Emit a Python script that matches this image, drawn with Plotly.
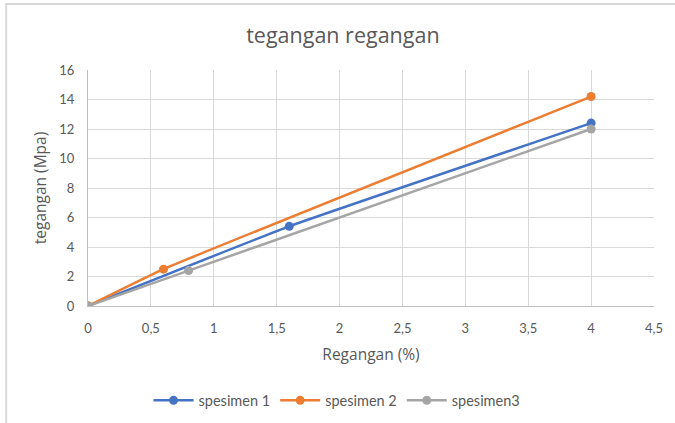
import plotly.graph_objects as go

# data
regangan_1 = [0, 1.6, 4]
tegangan_1 = [0, 5.4, 12.4]
regangan_2 = [0, 0.6, 4]
tegangan_2 = [0, 2.5, 14.2]
regangan_3 = [0, 0.8, 4]
tegangan_3 = [0, 2.4, 12.0]

names = ["spesimen 1", "spesimen 2", "spesimen3"]
colors = ["#4472C4", "#ED7D31", "#A5A5A5"]

fig = go.Figure()

for name, x, y, c in zip(names,
                         [regangan_1, regangan_2, regangan_3],
                         [tegangan_1, tegangan_2, tegangan_3],
                         colors):
    fig.add_trace(go.Scatter(
        x=x, y=y, name=name, mode="lines+markers",
        line=dict(color=c, width=2.5, shape="spline", smoothing=0.3),
        marker=dict(color=c, size=9),
    ))

grey = "#595959"

fig.update_layout(
    width=675, height=423,
    margin=dict(l=88, r=21, t=70, b=117, autoexpand=False),
    paper_bgcolor="white",
    plot_bgcolor="white",
    separators=", ",
    font=dict(family="Lato, Open Sans, sans-serif", color=grey, size=13),
    title=dict(text="tegangan regangan", x=0.508, xanchor="center",
               y=0.915, yanchor="middle",
               font=dict(family="Open Sans", size=21.5, color=grey)),
    xaxis=dict(
        range=[0, 4.5], dtick=0.5, tick0=0,
        showgrid=True, gridcolor="#D9D9D9", gridwidth=1,
        showline=True, linecolor="#BFBFBF", linewidth=1,
        zeroline=False, ticks="", ticklabelstandoff=10, automargin=False,
        title=dict(text="Regangan (%)", standoff=14,
                   font=dict(family="Open Sans", size=15.5, color=grey)),
    ),
    yaxis=dict(
        range=[0, 16], dtick=2,
        showgrid=True, gridcolor="#D9D9D9", gridwidth=1,
        showline=True, linecolor="#BFBFBF", linewidth=1,
        zeroline=False, ticks="", ticklabelstandoff=10, automargin=False,
        title=dict(text="tegangan (Mpa)", standoff=8,
                   font=dict(family="Open Sans", size=15.5, color=grey)),
    ),
    legend=dict(orientation="h", x=0.44, xanchor="center", y=-0.40, yanchor="middle",
                font=dict(size=14.5, color=grey), itemwidth=40),
    showlegend=True,
)

# outer chart border (left and top edges visible in reference)
fig.add_shape(type="rect", xref="paper", yref="paper",
              x0=-0.1445, x1=1.05, y0=-0.6, y1=1.28,
              line=dict(color="#D9D9D9", width=2), layer="below")

fig.write_html("out.html", config={"displayModeBar": False},
               post_script="document.body.style.margin='0';")
